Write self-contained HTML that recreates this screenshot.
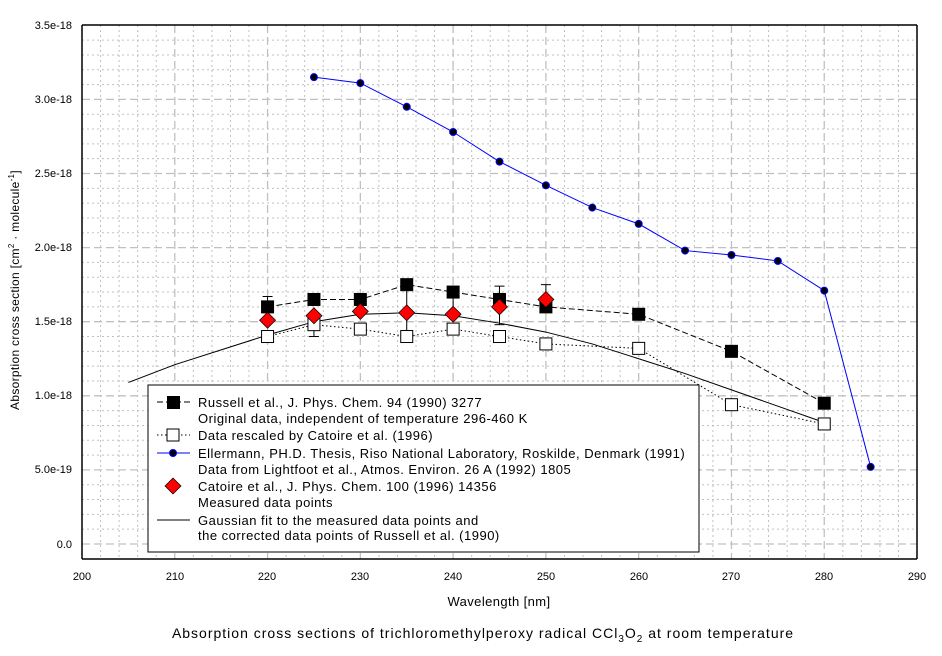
<!DOCTYPE html>
<html><head><meta charset="utf-8"><style>
body{margin:0;background:#fff;}
svg text{font-family:"Liberation Sans",Arial,sans-serif;}
</style></head><body>
<svg id="s" width="942" height="651" xmlns="http://www.w3.org/2000/svg">
<g id="grid"></g>
<g id="data"></g>
<line x1="82" y1="25" x2="917" y2="25" stroke="#000" stroke-width="1.5"/>
<line x1="82" y1="25" x2="82" y2="559" stroke="#000" stroke-width="1.5"/>
<line x1="82" y1="559" x2="917" y2="559" stroke="#000" stroke-width="1.5"/>
<line x1="917" y1="25" x2="917" y2="559" stroke="#000" stroke-width="1.5"/>
<g font-size="11" text-anchor="end" fill="#000">
<text x="72" y="29">3.5e-18</text>
<text x="72" y="103">3.0e-18</text>
<text x="72" y="177">2.5e-18</text>
<text x="72" y="251">2.0e-18</text>
<text x="72" y="325">1.5e-18</text>
<text x="72" y="399">1.0e-18</text>
<text x="72" y="473">5.0e-19</text>
<text x="72" y="548">0.0</text>
</g>
<g font-size="11" text-anchor="middle">
<text x="82" y="580">200</text><text x="175" y="580">210</text><text x="267" y="580">220</text>
<text x="360" y="580">230</text><text x="453" y="580">240</text><text x="546" y="580">250</text>
<text x="639" y="580">260</text><text x="731" y="580">270</text><text x="824" y="580">280</text>
<text x="917" y="580">290</text>
</g>
<text x="499" y="606" font-size="13" letter-spacing="0.4" text-anchor="middle">Wavelength [nm]</text>
<text transform="translate(19,290) rotate(-90)" font-size="12" letter-spacing="0.3" text-anchor="middle">Absorption cross section [cm<tspan font-size="8" dy="-5">2</tspan><tspan dy="5"> · molecule</tspan><tspan font-size="8" dy="-5">-1</tspan><tspan dy="5">]</tspan></text>
<text x="483" y="638" font-size="14" letter-spacing="1.0" text-anchor="middle">Absorption cross sections of trichloromethylperoxy radical CCl<tspan font-size="10" dy="4">3</tspan><tspan dy="-4">O</tspan><tspan font-size="10" dy="4">2</tspan><tspan dy="-4"> at room temperature</tspan></text>
<g id="legend">
<rect x="148" y="385" width="551" height="167" fill="#fff" stroke="#000" stroke-width="1"/>
<line x1="157" y1="402" x2="190" y2="402" stroke="#000" stroke-dasharray="6,3"/>
<rect x="167" y="396" width="13" height="13" fill="#000"/>
<line x1="157" y1="435" x2="190" y2="435" stroke="#000" stroke-dasharray="1.5,2.5"/>
<rect x="167" y="429" width="12" height="12" fill="#fff" stroke="#000"/>
<line x1="157" y1="453" x2="190" y2="453" stroke="#00f"/>
<circle cx="173" cy="453" r="3.5" fill="#000" stroke="#00f"/>
<polygon points="173,478 181,486 173,494 165,486" fill="#f00" stroke="#000" stroke-width="0.7"/>
<line x1="157" y1="520" x2="190" y2="520" stroke="#000"/>
<g font-size="13" letter-spacing="0.5">
<text x="198" y="407">Russell et al., J. Phys. Chem. 94 (1990) 3277</text>
<text x="198" y="423">Original data, independent of temperature 296-460 K</text>
<text x="198" y="440">Data rescaled by Catoire et al. (1996)</text>
<text x="198" y="458">Ellermann, PH.D. Thesis, Riso National Laboratory, Roskilde, Denmark (1991)</text>
<text x="198" y="474">Data from Lightfoot et al., Atmos. Environ. 26 A (1992) 1805</text>
<text x="198" y="491">Catoire et al., J. Phys. Chem. 100 (1996) 14356</text>
<text x="198" y="507">Measured data points</text>
<text x="198" y="525">Gaussian fit to the measured data points and</text>
<text x="198" y="540">the corrected  data points of Russell et al. (1990)</text>
</g>
</g>
</svg>
<script>
var NS="http://www.w3.org/2000/svg";
function X(w){return 82+(w-200)*9.278;}
function Y(v){return 544-v*148.2;}
function el(p,t,a){var e=document.createElementNS(NS,t);for(var k in a)e.setAttribute(k,a[k]);p.appendChild(e);return e;}
var g=document.getElementById('grid');
for(var w=202;w<290;w+=2){var maj=(w%10==0);el(g,'line',{x1:X(w),x2:X(w),y1:25,y2:559,stroke:'#c0c0c0','stroke-width':maj?1.3:1,'stroke-dasharray':maj?'8,4':'2,3'});}
for(var i=-1;i<35;i++){var v=i/10;var maj=(i%5==0);el(g,'line',{x1:82,x2:917,y1:Y(v),y2:Y(v),stroke:'#c0c0c0','stroke-width':maj?1.3:1,'stroke-dasharray':maj?'8,4':'2,3'});}
var d=document.getElementById('data');
function pl(pts,a){a.points=pts.map(function(p){return X(p[0])+','+Y(p[1]);}).join(' ');a.fill='none';el(d,'polyline',a);}
var gauss=[[205,1.09],[210,1.21],[215,1.31],[220,1.41],[225,1.50],[230,1.55],[235,1.56],[240,1.54],[245,1.49],[250,1.43],[255,1.35],[260,1.25],[265,1.15],[270,1.04],[275,0.93],[280,0.82]];
pl(gauss,{stroke:'#000','stroke-width':1});
var rus=[[220,1.60],[225,1.65],[230,1.65],[235,1.75],[240,1.70],[245,1.65],[250,1.60],[260,1.55],[270,1.30],[280,0.95]];
pl(rus,{stroke:'#000','stroke-width':1,'stroke-dasharray':'6,3'});
var os=[[220,1.40],[225,1.48],[230,1.45],[235,1.40],[240,1.45],[245,1.40],[250,1.35],[260,1.32],[270,0.94],[280,0.81]];
pl(os,{stroke:'#000','stroke-width':1,'stroke-dasharray':'1.5,2.5'});
var bl=[[225,3.15],[230,3.11],[235,2.95],[240,2.78],[245,2.58],[250,2.42],[255,2.27],[260,2.16],[265,1.98],[270,1.95],[275,1.91],[280,1.71],[285,0.52]];
pl(bl,{stroke:'#00f','stroke-width':1});
var eb=[[220,1.60,1.67,0,1],[225,1.40,1.54,1,0],[235,1.44,1.72,1,0],[240,1.55,1.70,0,0],[245,1.48,1.74,1,1],[250,1.58,1.75,0,1]];
eb.forEach(function(e){var x=X(e[0]);el(d,'line',{x1:x,x2:x,y1:Y(e[1]),y2:Y(e[2]),stroke:'#000'});
if(e[3])el(d,'line',{x1:x-5,x2:x+5,y1:Y(e[1]),y2:Y(e[1]),stroke:'#000'});
if(e[4])el(d,'line',{x1:x-5,x2:x+5,y1:Y(e[2]),y2:Y(e[2]),stroke:'#000'});});
os.forEach(function(p){el(d,'rect',{x:X(p[0])-6,y:Y(p[1])-6,width:12,height:12,fill:'#fff',stroke:'#000'});});
rus.forEach(function(p){el(d,'rect',{x:X(p[0])-6.5,y:Y(p[1])-6.5,width:13,height:13,fill:'#000'});});
bl.forEach(function(p){el(d,'circle',{cx:X(p[0]),cy:Y(p[1]),r:3.5,fill:'#000',stroke:'#00f'});});
var red=[[220,1.51],[225,1.54],[230,1.57],[235,1.56],[240,1.55],[245,1.60],[250,1.65]];
red.forEach(function(p){var x=X(p[0]),y=Y(p[1]);el(d,'polygon',{points:x+','+(y-8)+' '+(x+8)+','+y+' '+x+','+(y+8)+' '+(x-8)+','+y,fill:'#f00',stroke:'#000','stroke-width':0.7});});
</script>
</body></html>
